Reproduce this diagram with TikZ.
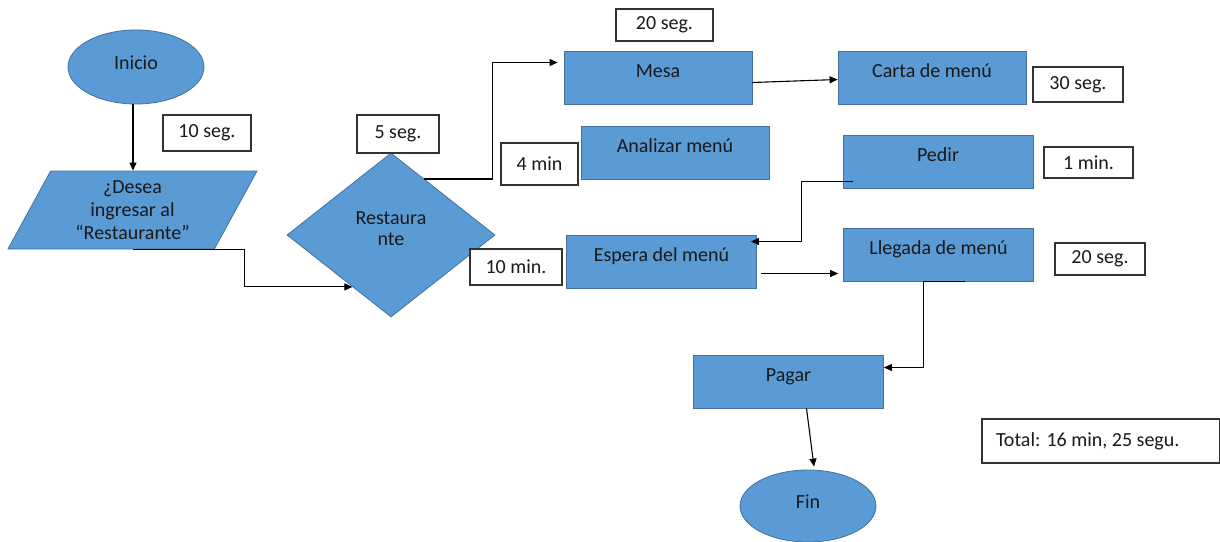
\documentclass[tikz,border=0pt]{standalone}
\usepackage{fontspec}
\setmainfont{Carlito}
\usetikzlibrary{shapes.geometric,arrows.meta,calc}
\definecolor{officeblue}{HTML}{5B9BD5}
\definecolor{officeline}{HTML}{41719C}

\begin{document}
\begin{tikzpicture}
  [x=1pt,y=-1pt,>={Triangle[length=8pt,width=7pt]},
   every node/.style={font=\fontsize{20pt}{23pt}\selectfont,text=black!90},
   proc/.style={rectangle,draw=officeline,fill=officeblue,line width=.8pt,minimum width=190pt,minimum height=53pt,text height=13pt,text depth=13pt},
   term/.style={ellipse,draw=officeline,fill=officeblue,line width=.8pt,minimum width=136pt,minimum height=74pt,text height=13pt,text depth=8pt},
   datos/.style={trapezium,trapezium left angle=57,trapezium right angle=123,trapezium stretches body,draw=officeline,fill=officeblue,line width=.8pt,minimum width=249pt,minimum height=78pt,align=center},
   decision/.style={diamond,draw=officeline,fill=officeblue,line width=.8pt,minimum width=208pt,minimum height=164pt,align=center,inner sep=0pt,font=\fontsize{20pt}{21pt}\selectfont,text depth=13pt},
   tiempo/.style={rectangle,draw=black!80,fill=white,line width=1.2pt,inner sep=2pt},
   flecha/.style={->,line width=1.1pt}]
  \useasboundingbox (0,0) rectangle (1220,541);

  \node[term] (inicio) at (136,67) {Inicio};
  \node[tiempo,minimum width=88pt,minimum height=36pt] (t1) at (207,133) {10 seg.};
  \node[datos] (ingreso) at (132.5,210) {¿Desea\\ingresar al\\“Restaurante”};
  \node[decision] (restaurante) at (391,235) {Restaura\\nte};
  \node[tiempo,minimum width=82pt,minimum height=38pt] (t2) at (398,134) {5 seg.};

  \node[tiempo,minimum width=97pt,minimum height=32pt] (t3) at (664.5,25) {20 seg.};
  \node[proc,minimum width=188pt] (mesa) at (658,77.5) {Mesa};
  \node[proc,minimum width=188pt] (carta) at (932,77.5) {Carta de menú};
  \node[tiempo,minimum width=90pt,minimum height=35pt] (t4) at (1078,84.5) {30 seg.};
  \node[tiempo,minimum width=77pt,minimum height=42pt] (t5) at (539.5,164) {4 min};
  \node[proc,minimum width=188pt] (analizar) at (675,152.5) {Analizar menú};
  \node[proc] (pedir) at (938,161.5) {Pedir};
  \node[tiempo,minimum width=89pt,minimum height=31pt] (t6) at (1088.5,162.5) {1 min.};
  \node[tiempo,minimum width=92pt,minimum height=36pt] (t7) at (516,267) {10 min.};
  \node[proc] (espera) at (661.5,261.5) {Espera del menú};
  \node[proc] (llegada) at (938.5,254.5) {Llegada de menú};
  \node[tiempo,minimum width=90pt,minimum height=32pt] (t8) at (1100,259) {20 seg.};
  \node[proc] (pagar) at (788.5,381.5) {Pagar};
  \node[tiempo,minimum width=238pt,minimum height=44pt] (total) at (1101,441) {\makebox[210pt][l]{Total: 16 min, 25 segu.}};
  \node[term,minimum height=72pt] (fin) at (808,506) {Fin};

  \coordinate (entrada) at ($(restaurante.west)!0.63!(restaurante.south)$);
  \coordinate (salida) at ($(restaurante.north)!0.32!(restaurante.east)$);

  \draw[flecha] ([xshift=-3pt]inicio.south) -- ([xshift=-3pt]inicio.south |- ingreso.north);
  \draw[flecha] (ingreso.center |- ingreso.south) -- ++(112,0) |- (entrada);
  \draw[flecha] (salida) -- ++(68,0) |- ([xshift=-6pt,yshift=15pt]mesa.west);
  \draw[flecha] ([yshift=-5pt]mesa.east) -- ([yshift=-2pt]carta.west);
  \draw[flecha] ([xshift=10pt,yshift=-20pt]pedir.west) -- ++(-51,0) |- ([xshift=-6pt,yshift=20pt]espera.east);
  \draw[flecha] ([xshift=4pt,yshift=-12pt]espera.east) coordinate (e1) -- ([xshift=-5pt]e1 -| llegada.west);
  \draw[line width=1.1pt] ([xshift=26pt]llegada.south) -- ([xshift=-15pt]llegada.south);
  \draw[flecha] ([xshift=-15pt]llegada.south) |- ([yshift=14pt]pagar.east);
  \draw[flecha] ([xshift=18pt]pagar.south) -- ([xshift=6pt,yshift=3pt]fin.north);

\end{tikzpicture}
\end{document}
